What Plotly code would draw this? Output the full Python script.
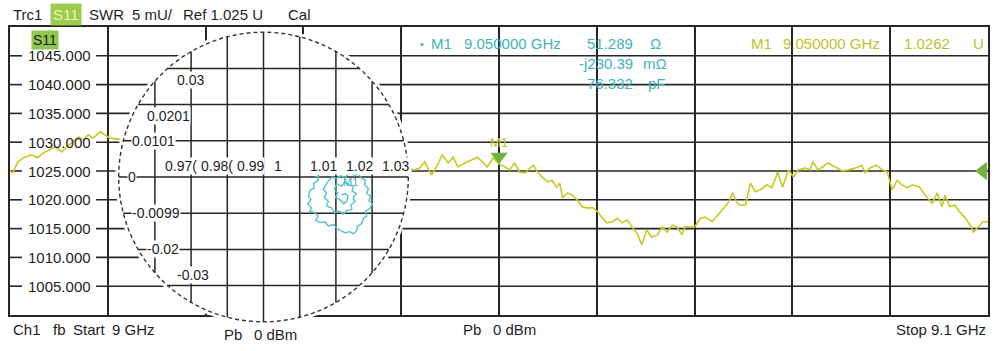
import math
import plotly.graph_objects as go

# ---------------- data ----------------
freq_ghz = [9.0000, 9.0003, 9.0008, 9.0015, 9.0022, 9.0028, 9.0034, 9.0041, 9.0046, 9.0053,
            9.0058, 9.0063, 9.0070, 9.0075, 9.0080, 9.0085, 9.0092, 9.0097, 9.0102,
            9.0414, 9.0419, 9.0424, 9.0431, 9.0437, 9.0442, 9.0448, 9.0453, 9.0458, 9.0465,
            9.0472, 9.0478, 9.0483, 9.0488, 9.0494, 9.0500, 9.0506, 9.0511, 9.0516, 9.0521,
            9.0527, 9.0532, 9.0535, 9.0540, 9.0545, 9.0550, 9.0554, 9.0559, 9.0562, 9.0565,
            9.0570, 9.0575, 9.0580, 9.0585, 9.0590, 9.0596, 9.0601, 9.0605, 9.0610, 9.0616,
            9.0621, 9.0626, 9.0631, 9.0636, 9.0641, 9.0646, 9.0651, 9.0656, 9.0662, 9.0667,
            9.0672, 9.0677, 9.0682, 9.0687, 9.0690, 9.0695, 9.0700, 9.0706, 9.0711, 9.0718,
            9.0724, 9.0729, 9.0734, 9.0739, 9.0743, 9.0746, 9.0752, 9.0757, 9.0762, 9.0767,
            9.0774, 9.0779, 9.0785, 9.0790, 9.0796, 9.0801, 9.0806, 9.0813, 9.0818, 9.0821,
            9.0826, 9.0831, 9.0836, 9.0844, 9.0851, 9.0857, 9.0864, 9.0871, 9.0874, 9.0879,
            9.0886, 9.0892, 9.0897, 9.0902, 9.0907, 9.0912, 9.0917, 9.0923, 9.0930, 9.0938,
            9.0943, 9.0948, 9.0953, 9.0956, 9.0961, 9.0966, 9.0971, 9.0976, 9.0982, 9.0985,
            9.0990, 9.0995, 9.1000]
swr_mu = [1025.0, 1024.7, 1026.6, 1027.4, 1027.8, 1027.3, 1028.1, 1028.7, 1029.2, 1028.3,
          1029.2, 1029.9, 1030.9, 1030.4, 1031.3, 1030.7, 1031.8, 1031.3, 1030.7,
          1025.2, 1025.5, 1026.6, 1024.3, 1026.0, 1027.8, 1026.4, 1027.4, 1025.7, 1026.4,
          1026.9, 1027.4, 1026.6, 1025.7, 1027.3, 1026.2, 1025.7, 1025.2, 1026.4, 1024.8,
          1024.7, 1025.5, 1026.0, 1024.7, 1023.8, 1023.1, 1023.4, 1022.2, 1022.9, 1020.3,
          1021.2, 1020.8, 1020.0, 1018.8, 1018.6, 1018.6, 1017.9, 1017.0, 1016.0, 1016.2,
          1016.8, 1016.0, 1016.5, 1015.3, 1014.2, 1012.2, 1014.8, 1013.5, 1013.9, 1015.3,
          1014.4, 1015.6, 1015.3, 1013.9, 1015.3, 1015.3, 1015.3, 1016.8, 1017.0, 1016.2,
          1017.4, 1018.2, 1019.4, 1021.2, 1019.6, 1019.1, 1019.1, 1022.9, 1021.4, 1021.7,
          1022.6, 1022.1, 1024.8, 1022.2, 1025.2, 1024.0, 1025.2, 1025.5, 1025.2, 1026.6,
          1025.2, 1025.7, 1026.4, 1025.7, 1025.0, 1025.2, 1025.5, 1026.0, 1024.7, 1025.5,
          1026.0, 1025.2, 1024.8, 1021.7, 1023.4, 1022.6, 1022.1, 1022.6, 1022.2, 1020.3,
          1019.4, 1021.2, 1018.8, 1020.8, 1018.8, 1019.1, 1017.9, 1017.0, 1015.6, 1014.4,
          1015.3, 1016.2, 1016.2]

smith_re = [1.0142, 1.0153, 1.0150, 1.0138, 1.0140, 1.0128, 1.0124, 1.0131, 1.0122, 1.0133,
            1.0128, 1.0142, 1.0151, 1.0144, 1.0159, 1.0170, 1.0179, 1.0193, 1.0202, 1.0216,
            1.0225, 1.0239, 1.0248, 1.0257, 1.0260, 1.0271, 1.0276, 1.0285, 1.0282, 1.0294,
            1.0301, 1.0291, 1.0297, 1.0285, 1.0290, 1.0279, 1.0282, 1.0269, 1.0262, 1.0251,
            1.0242, 1.0233, 1.0225, 1.0214, 1.0202, 1.0190, 1.0179, 1.0172, 1.0165, 1.0174,
            1.0168, 1.0179, 1.0174, 1.0188, 1.0196, 1.0209, 1.0221, 1.0230, 1.0244, 1.0242,
            1.0253, 1.0248, 1.0257, 1.0245, 1.0248, 1.0234, 1.0225, 1.0216, 1.0202, 1.0196,
            1.0205, 1.0198, 1.0211, 1.0221, 1.0230, 1.0234, 1.0225, 1.0216]
smith_im = [-0.0002, 0.0005, -0.0010, -0.0019, -0.0030, -0.0037, -0.0053, -0.0062, -0.0074, -0.0085,
            -0.0094, -0.0099, -0.0108, -0.0120, -0.0126, -0.0124, -0.0136, -0.0131, -0.0142, -0.0148,
            -0.0154, -0.0151, -0.0157, -0.0149, -0.0136, -0.0129, -0.0114, -0.0108, -0.0094, -0.0087,
            -0.0074, -0.0065, -0.0053, -0.0046, -0.0032, -0.0021, -0.0009, -0.0002, 0.0009, 0.0003,
            0.0016, 0.0007, -0.0002, 0.0003, -0.0004, 0.0000, -0.0011, -0.0022, -0.0034, -0.0044,
            -0.0057, -0.0067, -0.0080, -0.0085, -0.0099, -0.0094, -0.0103, -0.0092, -0.0090, -0.0076,
            -0.0068, -0.0056, -0.0046, -0.0039, -0.0025, -0.0022, -0.0013, -0.0025, -0.0019, -0.0034,
            -0.0044, -0.0057, -0.0062, -0.0074, -0.0067, -0.0053, -0.0046, -0.0050]

swr_tick_vals = [1005, 1010, 1015, 1020, 1025, 1030, 1035, 1040, 1045]
swr_tick_text = ["1005.000", "1010.000", "1015.000", "1020.000", "1025.000",
                 "1030.000", "1035.000", "1040.000", "1045.000"]
smith_re_ticks = [0.97, 0.98, 0.99, 1.00, 1.01, 1.02, 1.03]
smith_re_text = ["0.97(", "0.98(", "0.99", "1", "1.01", "1.02", "1.03"]
smith_im_ticks = [0.03, 0.02, 0.01, 0.0, -0.01, -0.02, -0.03]
smith_im_text = ["0.03", "0.0201", "0.0101", "0", "-0.0099", "-0.02", "-0.03"]

marker_freq = 9.05
marker_swr = 1026.2
ref_swr = 1025.0
f_start, f_stop = 9.0, 9.1
swr_min, swr_max = 1000, 1050

# ---------------- styling / geometry ----------------
FONT = "Liberation Sans, Arial, sans-serif"
DARK = "#1e1e1e"
GRID = "#262626"
YEL = "#c8c824"
YEL_TXT = "#c0c22a"
CYAN = "#56c2ca"
CYAN_TXT = "#3fb2ba"
GREEN = "#72b340"

W, H = 1000, 351
L, R, T, B = 10, 988, 17, 337          # plot area in px
FRAME_TOP, FRAME_BOT = 27, 315
SC_CX, SC_CY = 263.5, 177.0            # smith centre (px)
SC_SCALE = 3620.0                      # px per unit
SC_HALF = 160.0                        # half size of smith subplot (px)
SC_R = 0.040                           # dashed circle radius
SC_CLEAR = 0.041                       # white disc radius


def fx(px):
    return (px - L) / (R - L)


def fy(py):
    return (B - py) / (B - T)


px_per_mu = (FRAME_BOT - FRAME_TOP) / (swr_max - swr_min)
px_per_ghz = (R - L) / (f_stop - f_start)

fig = go.Figure()

# main SWR trace
fig.add_trace(go.Scatter(x=freq_ghz, y=swr_mu, mode="lines",
                         line=dict(color=YEL, width=1.6), hoverinfo="skip"))
# marker M1 triangle (tip at the value)
tri = 15
fig.add_trace(go.Scatter(x=[marker_freq], y=[marker_swr + (tri / 2) / px_per_mu],
                         mode="markers", cliponaxis=False, hoverinfo="skip",
                         marker=dict(symbol="triangle-down", size=tri, color=GREEN,
                                     line=dict(width=0))))
# reference level triangle at right edge
fig.add_trace(go.Scatter(x=[f_stop - 5 / px_per_ghz], y=[ref_swr],
                         mode="markers", cliponaxis=False, hoverinfo="skip",
                         marker=dict(symbol="triangle-left", size=16, color=GREEN,
                                     line=dict(width=0))))
# smith / polar trace
fig.add_trace(go.Scatter(x=smith_re, y=smith_im, xaxis="x2", yaxis="y2", mode="lines",
                         line=dict(color=CYAN, width=1.4), hoverinfo="skip"))

shapes = []
# horizontal main grid lines (broken where the labels sit)
for v in swr_tick_vals:
    shapes.append(dict(type="line", xref="paper", yref="y", x0=0, x1=fx(22), y0=v, y1=v,
                       line=dict(color=GRID, width=1.6), layer="below"))
    shapes.append(dict(type="line", xref="paper", yref="y", x0=fx(96), x1=1, y0=v, y1=v,
                       line=dict(color=GRID, width=1.6), layer="below"))

# smith disc
shapes.append(dict(type="circle", xref="x2", yref="y2", x0=1 - SC_CLEAR, x1=1 + SC_CLEAR,
                   y0=-SC_CLEAR, y1=SC_CLEAR, fillcolor="white", line=dict(width=0),
                   layer="below"))
for v in smith_re_ticks:
    d = v - 1.0
    h = math.sqrt(max(SC_R ** 2 - d ** 2, 0))
    shapes.append(dict(type="line", xref="x2", yref="y2", x0=v, x1=v, y0=-h, y1=h,
                       line=dict(color=GRID, width=1.5), layer="below"))
for v in smith_im_ticks:
    h = math.sqrt(max(SC_R ** 2 - v ** 2, 0))
    shapes.append(dict(type="line", xref="x2", yref="y2", x0=1 - h, x1=1 + h, y0=v, y1=v,
                       line=dict(color=GRID, width=1.5), layer="below"))
shapes.append(dict(type="circle", xref="x2", yref="y2", x0=1 - SC_R, x1=1 + SC_R,
                   y0=-SC_R, y1=SC_R, fillcolor="rgba(0,0,0,0)",
                   line=dict(color="#333333", width=1.4, dash="4px,3px"), layer="below"))

annotations = []


def ann(text, px, py, color=DARK, size=15, xanchor="left", **kw):
    d = dict(text=text, x=fx(px), y=fy(py), xref="paper", yref="paper",
             xanchor=xanchor, yanchor="middle", showarrow=False,
             font=dict(family=FONT, size=size, color=color))
    d.update(kw)
    return d


# y labels inside the frame
for v, t in zip(swr_tick_vals, swr_tick_text):
    annotations.append(dict(text=t, x=fx(26), y=v, xref="paper", yref="y",
                            xanchor="left", yanchor="middle", showarrow=False,
                            font=dict(family=FONT, size=15, color=DARK)))

# smith labels
for v, t in zip(smith_re_ticks, smith_re_text):
    annotations.append(dict(text=t, x=v, y=(SC_CY - 166) / SC_SCALE, xref="x2", yref="y2",
                            xanchor="left", yanchor="middle", xshift=9, showarrow=False,
                            bgcolor="white", borderpad=0,
                            font=dict(family=FONT, size=14, color=DARK)))
im_label_yshift = [-12, -11, 0, 0, 0, 0, 11]
for v, t, ys in zip(smith_im_ticks, smith_im_text, im_label_yshift):
    xl = 1 - math.sqrt(SC_R ** 2 - v ** 2) + 8 / SC_SCALE
    annotations.append(dict(text=t, x=xl, y=v, xref="x2", yref="y2",
                            xanchor="left", yanchor="middle", yshift=ys, showarrow=False,
                            bgcolor="white", borderpad=0,
                            font=dict(family=FONT, size=14, color=DARK)))
annotations.append(dict(text="M1", x=1 + (350 - SC_CX) / SC_SCALE, y=(SC_CY - 182) / SC_SCALE,
                        xref="x2", yref="y2", showarrow=False,
                        font=dict(family=FONT, size=11, color=CYAN_TXT)))

# marker label on trace
annotations.append(dict(text="M1", x=marker_freq, y=marker_swr, xref="x", yref="y",
                        yshift=22, showarrow=False,
                        font=dict(family=FONT, size=13, color=YEL_TXT)))

# header
annotations += [
    ann("Trc1", 11, 14),
    ann("S11", 66, 14, xanchor="center", bgcolor="#9bcb4f", borderpad=2, color="#f4f4b0"),
    ann("SWR", 87, 14),
    ann("5 mU/", 130, 14),
    ann("Ref 1.025 U", 181, 14),
    ann("Cal", 286, 14),
    ann("S11", 45, 40, xanchor="center", bgcolor="#8fc84e", borderpad=1, size=14),
]
# marker readouts
annotations += [
    ann("\u2022", 418, 44, color=CYAN_TXT, size=11),
    ann("M1", 429, 44, color=CYAN_TXT),
    ann("9.050000 GHz", 462, 44, color=CYAN_TXT),
    ann("51.289", 635, 44, color=CYAN_TXT, xanchor="right"),
    ann("\u03a9", 648, 44, color=CYAN_TXT),
    ann("-j230.39", 635, 63, color=CYAN_TXT, xanchor="right"),
    ann("m\u03a9", 641, 63, color=CYAN_TXT),
    ann("76.332", 635, 83, color=CYAN_TXT, xanchor="right"),
    ann("pF", 646, 83, color=CYAN_TXT),
    ann("M1", 749, 44, color=YEL_TXT),
    ann("9.050000 GHz", 781, 44, color=YEL_TXT),
    ann("1.0262", 952, 44, color=YEL_TXT, xanchor="right"),
    ann("U", 971, 44, color=YEL_TXT),
]
# footer
annotations += [
    ann("Ch1", 11, 329),
    ann("fb", 51, 329),
    ann("Start", 71, 329),
    ann("9 GHz", 110, 329),
    ann("Pb", 222, 334),
    ann("0 dBm", 252, 334),
    ann("Pb", 461, 329),
    ann("0 dBm", 491, 329),
    ann("Stop", 894, 329),
    ann("9.1 GHz", 988, 329, xanchor="right"),
]

fig.update_layout(
    width=W, height=H,
    margin=dict(l=L, r=W - R, t=T, b=H - B, pad=0),
    paper_bgcolor="white", plot_bgcolor="rgba(0,0,0,0)",
    showlegend=False,
    xaxis=dict(domain=[0, 1], range=[f_start, f_stop], showgrid=True, gridcolor=GRID,
               gridwidth=1.6, dtick=0.01, tick0=f_start, showticklabels=False, ticks="",
               showline=True, mirror=True, linecolor=GRID, linewidth=1.6, zeroline=False,
               fixedrange=True),
    yaxis=dict(domain=[fy(FRAME_BOT), fy(FRAME_TOP)], range=[swr_min, swr_max],
               showgrid=False, showticklabels=False, ticks="", showline=True, mirror=True,
               linecolor=GRID, linewidth=1.6, zeroline=False, fixedrange=True),
    xaxis2=dict(domain=[fx(SC_CX - SC_HALF), fx(SC_CX + SC_HALF)],
                range=[1 - SC_HALF / SC_SCALE, 1 + SC_HALF / SC_SCALE],
                anchor="y2", visible=False, fixedrange=True),
    yaxis2=dict(domain=[fy(SC_CY + SC_HALF), fy(SC_CY - SC_HALF)],
                range=[-SC_HALF / SC_SCALE, SC_HALF / SC_SCALE],
                anchor="x2", visible=False, fixedrange=True),
    shapes=shapes,
    annotations=annotations,
)

fig.write_html("out.html", config={"displayModeBar": False})
